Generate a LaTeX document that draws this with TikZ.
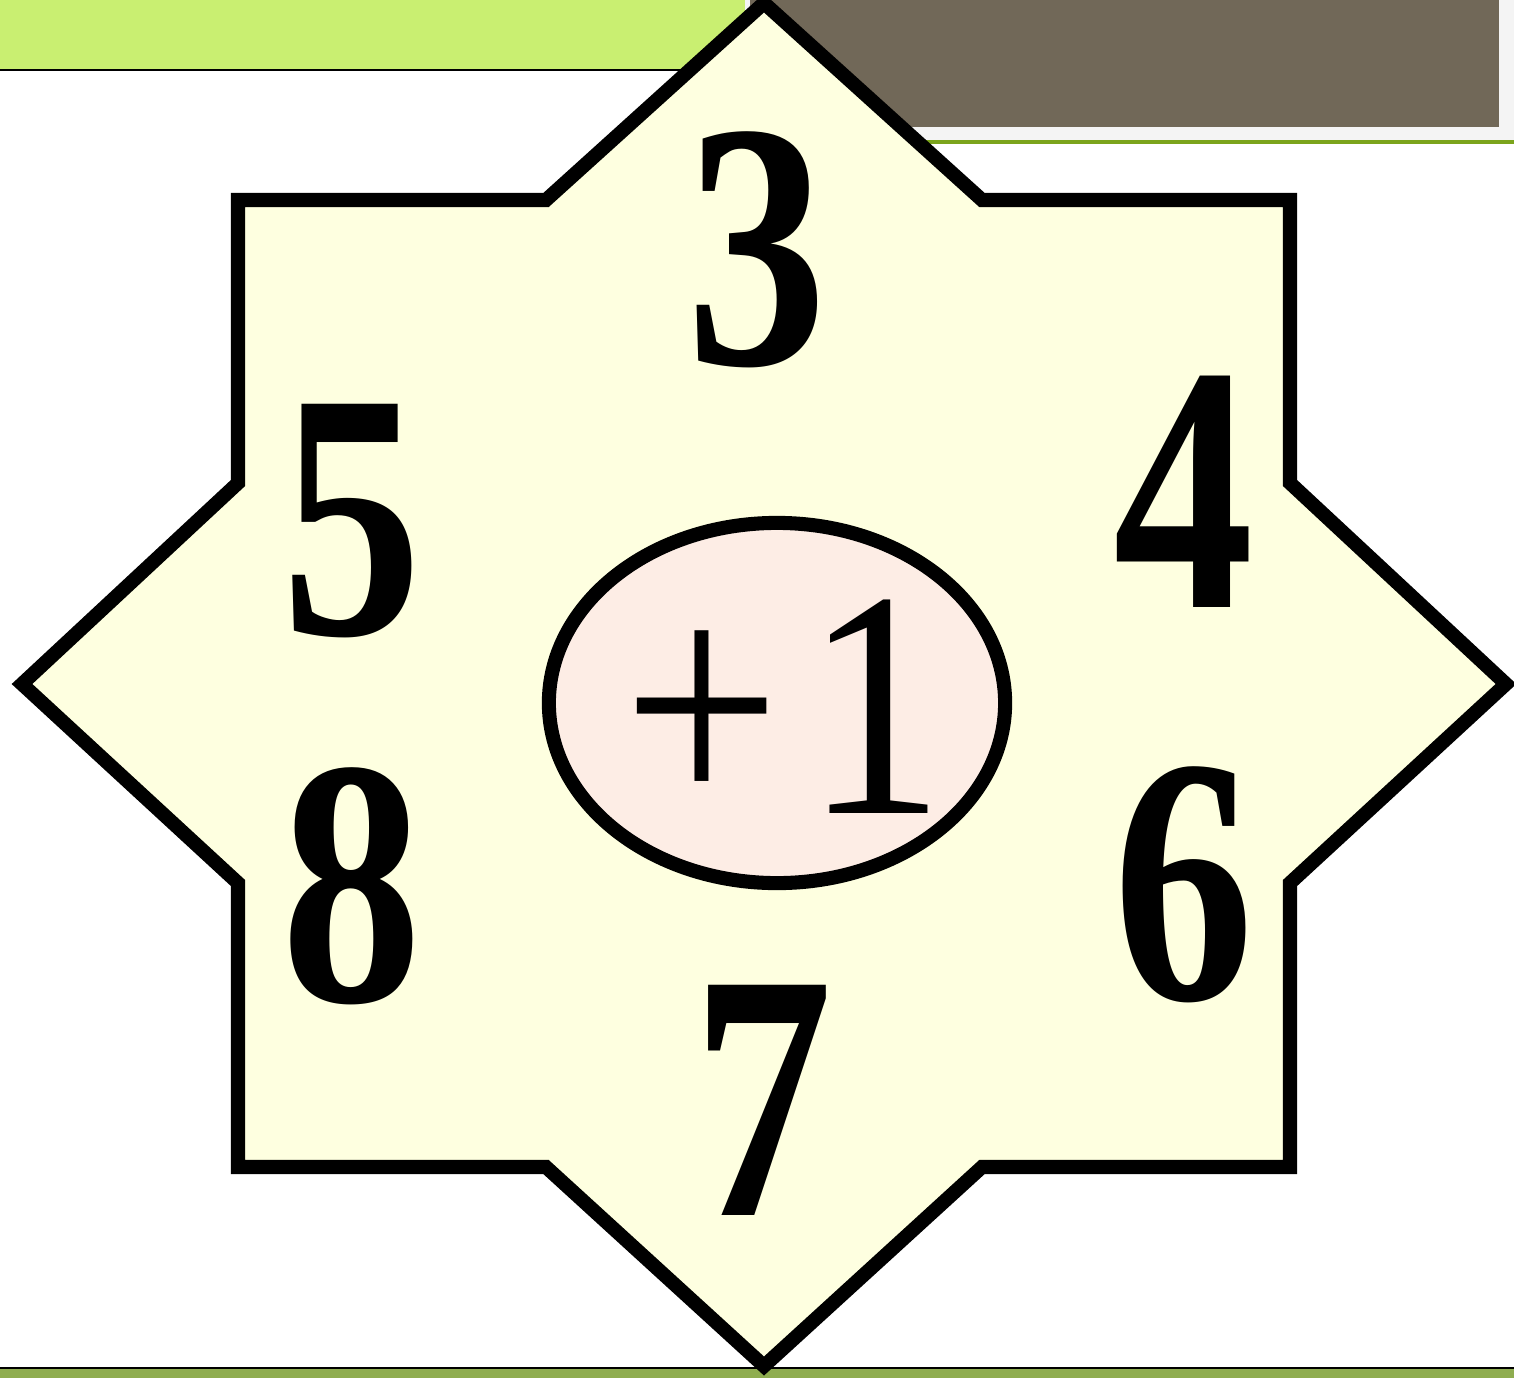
\documentclass[tikz,border=0pt]{standalone}
\usepackage{fontspec}
\setmainfont{Liberation Serif}
\newfontfamily\digitfont[FakeStretch=0.8]{Liberation Serif}
\newfontfamily\signfont[FakeStretch=0.86]{Liberation Serif}
\usetikzlibrary{shapes.geometric}
\definecolor{barGreen}{HTML}{C9EF71}
\definecolor{lineGreen}{HTML}{7BA41C}
\definecolor{bandGreen}{HTML}{8FAD50}
\definecolor{boxBrown}{HTML}{716858}
\definecolor{pageGray}{HTML}{F4F4F4}
\definecolor{starFill}{HTML}{FEFFE0}
\definecolor{roseFill}{HTML}{FDEDE5}
\begin{document}
\begin{tikzpicture}[x=0.01cm, y=-0.01cm, line join=miter,
    digit/.style={inner sep=0pt, font=\digitfont\fontsize{100}{100}\selectfont\bfseries},
    rim/.style={draw=black, line width=4pt}]
  \useasboundingbox (0,0) rectangle (1514,1378);

  % Top strip
  \fill[pageGray] (742,0) rectangle (1514,141);
  \fill[barGreen] (0,0) rectangle (745,69);
  \fill[boxBrown] (750,0) rectangle (1499,127);
  \draw[line width=0.6pt] (0,70) -- (764,70);
  \draw[lineGreen, line width=1.1pt] (764,142) -- (1514,142);

  % Bottom strip
  \fill[bandGreen] (0,1369) rectangle (1514,1378);
  \draw[line width=0.6pt] (0,1368) -- (1514,1368);

  % Star
  \def\cx{764}
  \def\cy{684}
  \draw[rim, fill=starFill]
    (\cx,3) -- (982,200) -- (1290,200) -- (1290,483) -- (1506,\cy)
    -- (1290,883) -- (1290,1167) -- (982,1167) -- (\cx,1366)
    -- (546,1167) -- (238,1167) -- (238,883) -- (22,\cy)
    -- (238,483) -- (238,200) -- (546,200) -- cycle;

  % Centre
  \node[ellipse, rim, fill=roseFill, minimum width=4.56cm, minimum height=3.6cm] (ring) at (777,703) {};
  \node[inner sep=0pt, font=\signfont\fontsize{92}{92}\selectfont] (plusone) at (784,707) {+\kern0.25cm1};

  % Digits
  \node[digit] (three) at (757,250) {3};
  \node[digit] (five)  at (352,521) {5};
  \node[digit] (four)  at (1184,492) {4};
  \node[digit] (eight) at (352,886) {8};
  \node[digit] (six)   at (1184,885) {6};
  \node[digit] (seven) at (763,1100) {7};
\end{tikzpicture}
\end{document}
